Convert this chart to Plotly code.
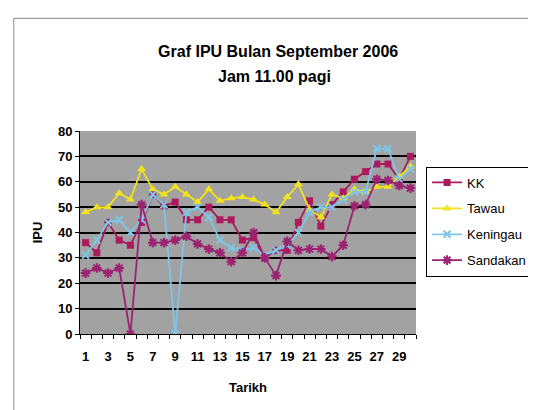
import plotly.graph_objects as go

days = list(range(1, 31))
tick_days = list(range(1, 30, 2))

kk = [36, 32, 44, 37, 35, 44, 55, 50.5, 52, 45, 45, 50, 45, 45, 37, 38, 30, 33, 33, 44,
      52.5, 42.5, 51, 56, 61, 64, 67, 67, 61, 70]
tawau = [48, 50, 50, 55.5, 53, 65, 57, 55, 58, 55, 52, 57, 52.5, 53.5, 54, 53, 51, 48, 54, 59,
         49, 46, 55, 53.5, 57, 56, 58, 58, 62, 66]
keningau = [31, 37, 44, 45, 40, 45, 55, 51, 0, 48, 50, 46, 37, 34, 33, 34, 31, 33, 35, 40,
            48, 50, 50, 53, 56, 56, 73, 73, 61, 65]
sandakan = [24, 26, 24, 26, 0, 51, 36, 36, 37, 38.5, 35.5, 33.5, 32, 28.5, 32, 40, 30, 23, 36.5, 33,
            33.5, 33.5, 30.5, 35, 50.5, 51, 61, 60.5, 58.5, 57.5]

series = [
    ("KK", kk, "#AA1A5C", "square", 7),
    ("Tawau", tawau, "#F2E21A", "triangle-up", 8),
    ("Keningau", keningau, "#7FC6E6", "x-thin-open", 7),
    ("Sandakan", sandakan, "#9C2272", "asterisk-open", 8),
]

FONT = "Liberation Sans, Arial, sans-serif"

fig = go.Figure()
for name, vals, col, sym, sz in series:
    mk = dict(symbol=sym, size=sz, color=col)
    if sym.endswith("open"):
        mk["line"] = dict(color=col, width=2)
    fig.add_trace(go.Scatter(x=days, y=vals, name=name, legendgroup=name,
                             mode="lines+markers",
                             line=dict(color=col, width=1.8), marker=mk))

fig.update_layout(
    width=536, height=410,
    margin=dict(l=72, r=119, t=123, b=84),
    paper_bgcolor="white", plot_bgcolor="#A2A2A2",
    font=dict(family=FONT, size=12, color="black"),
    title=dict(text="<b>Graf IPU Bulan September 2006</b>",
               x=0.504, xanchor="center", y=1 - 43 / 410, yanchor="middle",
               font=dict(size=16, family=FONT)),
    annotations=[dict(text="<b>Jam 11.00 pagi</b>", xref="paper", yref="paper",
                      x=(272 - 72) / 345, y=(326 - 68) / 203, xanchor="center",
                      yanchor="middle", showarrow=False,
                      font=dict(size=16, family=FONT))],
    showlegend=True,
    legend=dict(x=1.03, y=0.825, xanchor="left", yanchor="top",
                bgcolor="white", bordercolor="black", borderwidth=1,
                font=dict(size=13, family=FONT), tracegroupgap=6, itemwidth=30,
                traceorder="grouped"),
    shapes=[dict(type="rect", xref="paper", yref="paper",
                 x0=-0.197, x1=1.345, y0=-0.385, y1=1.555,
                 line=dict(color="#8a8a8a", width=1), fillcolor="rgba(0,0,0,0)")],
)

fig.update_xaxes(
    range=[0.5, 30.5], tickmode="array", tickvals=tick_days,
    ticktext=["<b>%d</b>" % d for d in tick_days], ticks="",
    showgrid=False, zeroline=False,
    showline=True, linecolor="black", linewidth=1,
    tickfont=dict(size=13, family=FONT),
    minor=dict(tickmode="linear", tick0=0.5, dtick=1, ticks="outside",
               ticklen=4, tickcolor="black", showgrid=False),
    title=dict(text="<b>Tarikh</b>", font=dict(size=13, family=FONT), standoff=20),
    ticklabelstandoff=10,
)
fig.update_yaxes(
    range=[0, 80], tickmode="array", tickvals=list(range(0, 81, 10)),
    ticktext=["<b>%d</b>" % v for v in range(0, 81, 10)],
    showgrid=True, gridcolor="black", gridwidth=1.5,
    zeroline=False, showline=True, linecolor="black", linewidth=1,
    ticks="outside", ticklen=4, tickcolor="black",
    tickfont=dict(size=13, family=FONT),
    title=dict(text="<b>IPU</b>", font=dict(size=13, family=FONT), standoff=12),
)

fig.write_html("out.html")
